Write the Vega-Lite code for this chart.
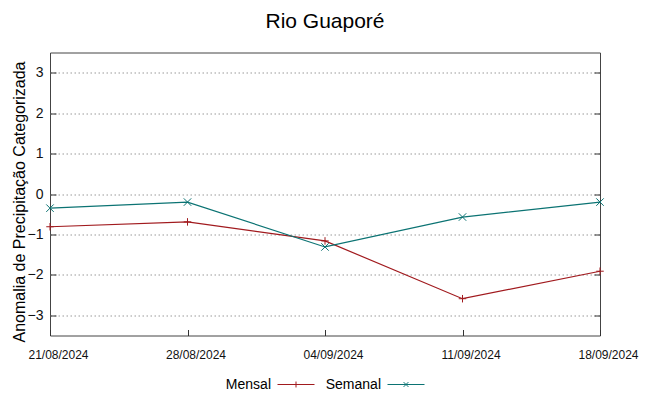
{
  "$schema": "https://vega.github.io/schema/vega-lite/v6.json",
  "width": 550,
  "height": 283,
  "autosize": {"type": "none"},
  "padding": {"left": 50, "top": 52.5, "right": 49, "bottom": 60.5},
  "title": {"text": "Rio Guaporé", "fontSize": 21, "font": "Liberation Sans", "fontWeight": "normal", "color": "#000", "offset": 4, "baseline": "alphabetic", "anchor": "middle"},
  "config": {"view": {"stroke": "#444", "strokeWidth": 1}, "font": "Liberation Sans"},
  "data": {"values": [
    {"date": "21/08/2024", "series": "Mensal", "value": -0.81},
    {"date": "28/08/2024", "series": "Mensal", "value": -0.69},
    {"date": "04/09/2024", "series": "Mensal", "value": -1.16},
    {"date": "11/09/2024", "series": "Mensal", "value": -2.59},
    {"date": "18/09/2024", "series": "Mensal", "value": -1.91},
    {"date": "21/08/2024", "series": "Semanal", "value": -0.35},
    {"date": "28/08/2024", "series": "Semanal", "value": -0.20},
    {"date": "04/09/2024", "series": "Semanal", "value": -1.31},
    {"date": "11/09/2024", "series": "Semanal", "value": -0.57},
    {"date": "18/09/2024", "series": "Semanal", "value": -0.20}
  ]},
  "encoding": {
    "x": {"field": "date", "type": "ordinal", "sort": null, "scale": {"type": "point", "padding": 0},
      "axis": {"title": null, "labelAngle": 0, "domain": false, "grid": false, "tickSize": -6, "tickColor": "#333", "labelFontSize": 12, "labelColor": "#111", "labelPadding": 20, "labelOffset": 8}}
  },
  "layer": [
    {
      "mark": {"type": "line", "strokeWidth": 1.2},
      "encoding": {
        "y": {"field": "value", "type": "quantitative", "scale": {"domain": [-3.5, 3.5], "nice": false, "zero": false},
          "axis": {"values": [-3, -2, -1, 0, 1, 2, 3], "domain": false, "tickSize": -6, "tickColor": "#333", "grid": true, "gridDash": [1.5, 2.5], "gridColor": "#999", "gridWidth": 1, "labelFontSize": 14, "labelColor": "#111", "labelPadding": 13, "title": "Anomalia de Precipitação Categorizada", "titleFontSize": 16, "titleFontWeight": "normal", "titleColor": "#000", "titleX": -31, "titleY": 149, "titleAngle": -90, "titleBaseline": "middle", "titleAlign": "center"}},
        "color": {"field": "series", "type": "nominal", "scale": {"domain": ["Mensal", "Semanal"], "range": ["#a11a1e", "#0b7373"]},
          "legend": {"orient": "none", "legendX": 227, "legendY": 313, "direction": "horizontal", "title": null, "padding": 0, "labelFontSize": 14, "labelColor": "#000", "labelAlign": "right", "labelOffset": -44, "symbolSize": 1369, "symbolStrokeWidth": 1, "columnPadding": 8,
            "encode": {"symbols": {"update": {"shape": {"signal": "datum.value === 'Mensal' ? 'M-1,0H1M0,-0.16V0.16' : 'M-1,0H1M-0.13,-0.13L0.13,0.13M-0.13,0.13L0.13,-0.13'"}, "fill": {"value": "transparent"}}}}}}
      }
    },
    {
      "transform": [{"filter": "datum.series === 'Mensal'"}],
      "mark": {"type": "point", "filled": false, "strokeWidth": 1, "size": 56, "opacity": 1, "color": "#a11a1e", "shape": "M-1,0H1M0,-1V1"},
      "encoding": {
        "y": {"field": "value", "type": "quantitative",
          "axis": {"orient": "right", "values": [-3, -2, -1, 0, 1, 2, 3], "labels": false, "domain": false, "grid": false, "tickSize": -6, "tickColor": "#333", "title": null}}
      }
    },
    {
      "transform": [{"filter": "datum.series === 'Semanal'"}],
      "mark": {"type": "point", "filled": false, "strokeWidth": 1, "size": 56, "opacity": 1, "color": "#0b7373", "shape": "M-1,-1L1,1M-1,1L1,-1"},
      "encoding": {
        "y": {"field": "value", "type": "quantitative", "axis": null}
      }
    }
  ],
  "resolve": {"axis": {"y": "independent"}}
}
